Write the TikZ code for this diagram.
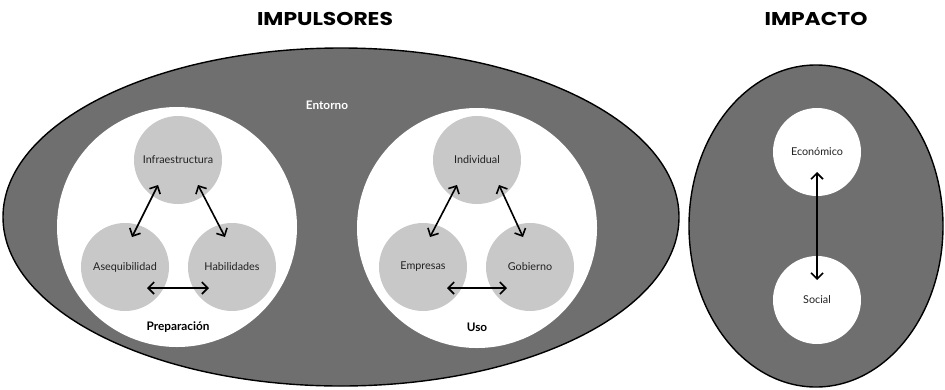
\documentclass[tikz,border=0pt]{standalone}
\usepackage{fontspec}
\setmainfont{Lato}
\newfontfamily\titlefont[FakeStretch=1.18]{Poppins}
\usetikzlibrary{arrows.meta,calc}
\definecolor{darkfill}{HTML}{6F6F6F}
\definecolor{lightfill}{HTML}{C8C8C8}
\definecolor{labeltext}{HTML}{222222}
\tikzset{
  bigring/.style={draw=black,line width=1.4pt,fill=darkfill},
  whitecirc/.style={circle,fill=white,minimum size=240pt,inner sep=0pt},
  graycirc/.style={circle,fill=lightfill,minimum size=88pt,inner sep=0pt,text=labeltext,font=\fontsize{10.8}{12}\selectfont},
  impcirc/.style={circle,fill=white,minimum size=88pt,inner sep=0pt,text=labeltext,font=\fontsize{10.8}{12}\selectfont},
  link/.style={line width=1.6pt,{Straight Barb[length=6pt,width=12pt]}-{Straight Barb[length=6pt,width=12pt]}},
  titletxt/.style={font=\titlefont\bfseries\fontsize{18.5}{20}\selectfont},
  grouptxt/.style={font=\bfseries\fontsize{11.8}{13}\selectfont}
}
\begin{document}
\begin{tikzpicture}[x=1pt,y=-1pt]
\useasboundingbox (0,0) rectangle (945,389);
% titles
\node[titletxt] (t1) at (325,18.5) {IMPULSORES};
\node[titletxt] (t2) at (816,18.5) {IMPACTO};
% big ellipse
\draw[bigring] (341,217) ellipse [x radius=338, y radius=169];
\node[grouptxt,text=white] (ent) at (327,105) {Entorno};
% left group
\node[whitecirc] (prep) at (177,227) {};
\node[graycirc] (inf) at (178,160) {Infraestructura};
\node[graycirc] (ase) at (125,267) {Asequibilidad};
\node[graycirc] (hab) at (232,267) {Habilidades};
\node[grouptxt] (preplbl) at (178,327) {Preparación};
\draw[link] ($(inf)+(-20,25)$) -- ($(ase)+(7,-30)$);
\draw[link] ($(inf)+(20,25)$) -- ($(hab)+(-7,-30)$);
\draw[link] ($(ase)+(22,21)$) -- ($(hab)+(-23,21)$);
% right group
\node[whitecirc] (uso) at (477,228) {};
\node[graycirc] (ind) at (477,160) {Individual};
\node[graycirc] (emp) at (423,267) {Empresas};
\node[graycirc] (gob) at (530,267) {Gobierno};
\node[grouptxt] (usolbl) at (477,327) {Uso};
\draw[link] ($(ind)+(-20,25)$) -- ($(emp)+(7,-30)$);
\draw[link] ($(ind)+(22,25)$) -- ($(gob)+(-7,-30)$);
\draw[link] ($(emp)+(24,21)$) -- ($(gob)+(-23,21)$);
% impact
\draw[bigring] (816,226) ellipse [x radius=127, y radius=161];
\node[impcirc] (eco) at (817,152) {Económico};
\node[impcirc] (soc) at (817,300) {Social};
\draw[link] ($(eco)+(0,20)$) -- ($(soc)+(0,-20)$);
\end{tikzpicture}
\end{document}
